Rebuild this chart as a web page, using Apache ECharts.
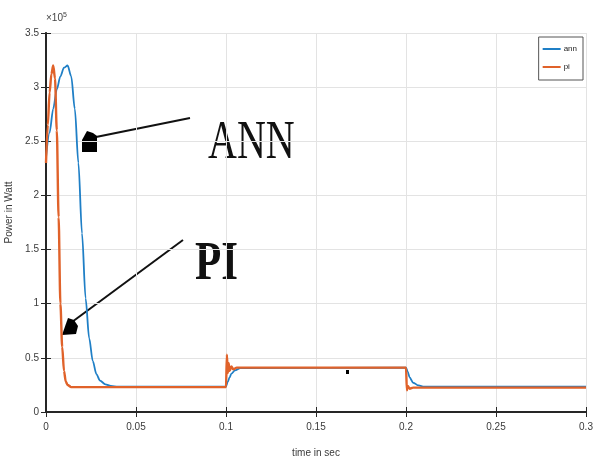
<!DOCTYPE html>
<html>
<head>
<meta charset="utf-8">
<script src="https://cdn.jsdelivr.net/npm/echarts@6/dist/echarts.min.js"></script>
<style>
html,body{margin:0;padding:0;background:#fff;}
#chart{width:594px;height:460px;}
</style>
</head>
<body>
<div id="chart"></div>
<script>
// time in sec (x), power in W x10^5 (y)
var annTime  = [0, 0.002, 0.004, 0.006, 0.008, 0.010, 0.012, 0.014, 0.016, 0.018, 0.020, 0.022, 0.024, 0.026, 0.028, 0.030, 0.033, 0.036, 0.040, 0.100, 0.101, 0.102, 0.103, 0.105, 0.108, 0.200, 0.201, 0.202, 0.204, 0.207, 0.210, 0.300];
var annPower = [2.35, 2.58, 2.80, 2.98, 3.10, 3.18, 3.20, 3.10, 2.80, 2.30, 1.65, 1.05, 0.68, 0.47, 0.35, 0.29, 0.255, 0.24, 0.235, 0.235, 0.28, 0.32, 0.355, 0.385, 0.405, 0.41, 0.37, 0.32, 0.27, 0.245, 0.235, 0.235];
var piTime   = [0, 0.001, 0.002, 0.003, 0.004, 0.005, 0.006, 0.007, 0.008, 0.009, 0.010, 0.011, 0.012, 0.014, 0.100, 0.1005, 0.101, 0.1015, 0.102, 0.103, 0.104, 0.106, 0.200, 0.2005, 0.201, 0.202, 0.204, 0.300];
var piPower  = [2.30, 2.65, 2.95, 3.12, 3.20, 3.08, 2.60, 1.80, 1.00, 0.60, 0.38, 0.28, 0.25, 0.23, 0.23, 0.53, 0.36, 0.45, 0.38, 0.42, 0.395, 0.41, 0.41, 0.20, 0.24, 0.215, 0.225, 0.225];
var seriesNames = ['ann', 'pi'];
var xTicks = {min: 0, max: 0.3, interval: 0.05};
var yTicks = {min: 0, max: 3.5, interval: 0.5};

function pairs(t, v){ return t.map(function(x,i){ return [x, v[i]]; }); }

var chart = echarts.init(document.getElementById('chart'));
var axisCol = '#262626';
var labelFont = {fontFamily: '"Liberation Sans Narrow","Liberation Sans",Arial,sans-serif', fontSize: 10, color: '#3a3a3a'};
chart.setOption({
  animation: false,
  backgroundColor: '#fff',
  grid: {left: 46, right: 8, top: 33, bottom: 48, containLabel: false, outerBoundsMode: 'none'},
  legend: {
    right: 11, top: 37, orient: 'vertical',
    data: seriesNames,
    itemWidth: 18, itemHeight: 2, itemGap: 10,
    icon: 'rect',
    borderColor: '#555', borderWidth: 1, padding: [8, 6, 9, 4],
    backgroundColor: '#fff',
    textStyle: {fontSize: 8, fontFamily: 'Liberation Sans, Arial, sans-serif', color: '#222', padding: [0,0,0,-2]}
  },
  xAxis: [{
    type: 'value', min: xTicks.min, max: xTicks.max, interval: xTicks.interval,
    name: 'time in sec', nameLocation: 'middle', nameGap: 36,
    nameTextStyle: {fontFamily: labelFont.fontFamily, fontSize: 10, color: '#3a3a3a'},
    axisLine: {show: true, lineStyle: {color: axisCol, width: 1.5}},
    axisTick: {show: true, inside: true, length: 5, lineStyle: {color: axisCol}},
    axisLabel: Object.assign({margin: 10}, labelFont),
    splitLine: {show: true, lineStyle: {color: '#e3e3e3', width: 1}}
  }, {
    type: 'value', position: 'top', min: xTicks.min, max: xTicks.max, interval: xTicks.interval,
    axisLine: {show: true, lineStyle: {color: axisCol, width: 2}},
    axisTick: {show: true, inside: true, length: 5, lineStyle: {color: axisCol}},
    axisLabel: {show: false}, splitLine: {show: false}
  }],
  yAxis: [{
    type: 'value', min: yTicks.min, max: yTicks.max, interval: yTicks.interval,
    name: 'Power in Watt', nameLocation: 'middle', nameGap: 27,
    nameTextStyle: {fontFamily: labelFont.fontFamily, fontSize: 10, color: '#3a3a3a', padding: [0, 0, 0, 20]},
    axisLine: {show: true, lineStyle: {color: axisCol, width: 1.5}},
    axisTick: {show: true, inside: true, length: 5, lineStyle: {color: axisCol}},
    axisLabel: Object.assign({margin: 7}, labelFont),
    splitLine: {show: true, lineStyle: {color: '#e3e3e3', width: 1}}
  }, {
    type: 'value', position: 'right', min: yTicks.min, max: yTicks.max, interval: yTicks.interval,
    axisLine: {show: true, lineStyle: {color: axisCol, width: 2}},
    axisTick: {show: true, inside: true, length: 5, lineStyle: {color: axisCol}},
    axisLabel: {show: false}, splitLine: {show: false}
  }],
  series: [{
    name: seriesNames[0], type: 'line', data: pairs(annTime, annPower),
    showSymbol: false, smooth: 0.3, smoothMonotone: 'x',
    lineStyle: {color: '#1f7fc6', width: 1.8}, itemStyle: {color: '#1f7fc6'}, z: 2
  }, {
    name: seriesNames[1], type: 'line', data: pairs(piTime, piPower),
    showSymbol: false, smooth: 0.3, smoothMonotone: 'x',
    lineStyle: {color: '#e0622a', width: 2.4}, itemStyle: {color: '#e0622a'}, z: 3
  }],
  graphic: [
    {type: 'text', left: 46, top: 12, style: {
      text: '{a|×10}{b|5}', rich: {
        a: {fontSize: 10, fontFamily: labelFont.fontFamily, fill: '#444'},
        b: {fontSize: 7, fontFamily: labelFont.fontFamily, fill: '#444', verticalAlign: 'top', padding: [0,0,6,0]}
      }}},
    {type: 'text', x: 208, y: 117, scaleY: 1.36, style: {text: 'ANN', font: '40px "Liberation Serif", "Times New Roman", serif', fill: '#111', textVerticalAlign: 'top'}},
    {type: 'text', x: 195, y: 237, scaleY: 1.3, style: {text: 'PI', font: 'bold 43px "Liberation Serif", "Times New Roman", serif', fill: '#111', textVerticalAlign: 'top'}},
    {type: 'line', shape: {x1: 96, y1: 137, x2: 190, y2: 118}, style: {stroke: '#111', lineWidth: 2.2}},
    {type: 'polygon', shape: {points: [[82,152],[82,140],[87,131],[93,133],[97,136],[97,152]]}, style: {fill: '#000'}},
    {type: 'line', shape: {x1: 72, y1: 322, x2: 183, y2: 240}, style: {stroke: '#111', lineWidth: 2}},
    {type: 'polygon', shape: {points: [[62,335],[68,318],[74,320],[78,326],[76,334]]}, style: {fill: '#000'}},
    {type: 'rect', shape: {x: 346, y: 370, width: 3, height: 4}, style: {fill: '#000'}}
  ]
});
</script>
</body>
</html>
